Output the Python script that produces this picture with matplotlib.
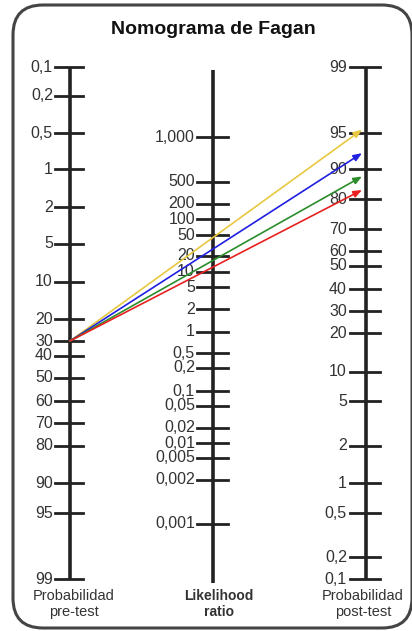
import numpy as np
import matplotlib.pyplot as plt
from matplotlib.patches import FancyBboxPatch

plt.rcParams['font.family'] = ['Liberation Sans', 'DejaVu Sans']

# pre-test probability scale (%) and where each tick sits on the drawn scale
pre_labels = ["0,1", "0,2", "0,5", "1", "2", "5", "10", "20", "30", "40",
              "50", "60", "70", "80", "90", "95", "99"]
pre_values = [0.1, 0.2, 0.5, 1, 2, 5, 10, 20, 30, 40, 50, 60, 70, 80, 90, 95, 99]
pre_pos = [67, 96, 133, 169, 207, 244, 282, 319, 341, 356, 378, 401, 423,
           446, 483, 513, 579]

# likelihood ratio scale
lr_labels = ["1,000", "500", "200", "100", "50", "20", "10", "5", "2", "1",
             "0,5", "0,2", "0,1", "0,05", "0,02", "0,01", "0,005", "0,002", "0,001"]
lr_pos = [137, 182, 204, 219, 235, 256, 272, 287, 309, 332, 353, 368, 391,
          406, 428, 443, 458, 480, 524]

# post-test probability scale (%)
post_labels = ["99", "95", "90", "80", "70", "60", "50", "40", "30", "20",
               "10", "5", "2", "1", "0,5", "0,2", "0,1"]
post_values = [99, 95, 90, 80, 70, 60, 50, 40, 30, 20, 10, 5, 2, 1, 0.5, 0.2, 0.1]
post_pos = [67, 133, 169, 199, 229, 251, 266, 289, 311, 333, 372, 401, 446,
            483, 513, 557, 579]

# arrows: pre-test probability -> post-test probability
pretest = 30
posttest = [95.2, 92.2, 87.5, 83.0]
arrow_colors = ["#e8c840", "#1f1fe0", "#2a8c2a", "#e82020"]

fig = plt.figure(figsize=(4.12, 6.31), dpi=100)
ax = fig.add_axes([0, 0, 1, 1])
ax.set_xlim(0, 412)
ax.set_ylim(631, 0)
ax.axis("off")

frame = FancyBboxPatch((13, 5), 399, 623, boxstyle="round,pad=0,rounding_size=30",
                       fc="white", ec="#444444", lw=2.2)
ax.add_patch(frame)

ax.text(213, 30, "Nomograma de Fagan", ha="center", va="center",
        fontsize=14, fontweight="bold", color="#111111")

axis_col = "#222222"
text_col = "#333333"


def draw_scale(x, y0, y1, labels, pos, t0, t1, lx):
    ax.plot([x, x], [y0, y1], color=axis_col, lw=2.6, solid_capstyle="butt")
    for lab, p in zip(labels, pos):
        ax.plot([x - t0, x + t1], [p, p], color=axis_col, lw=2.0)
        ax.text(x - lx, p, lab, ha="right", va="center", fontsize=11.5, color=text_col)


draw_scale(70, 67, 579, pre_labels, pre_pos, 15, 13, 17)
draw_scale(213, 70, 583, lr_labels, lr_pos, 16, 15, 18)
draw_scale(366, 67, 579, post_labels, post_pos, 16, 14, 19)

ax.text(74, 604, "Probabilidad\npre-test", ha="center", va="center",
        fontsize=10.5, color=text_col, linespacing=1.15)
ax.text(219, 604, "Likelihood\nratio", ha="center", va="center",
        fontsize=10, fontweight="bold", color=text_col, linespacing=1.25)
ax.text(363, 604, "Probabilidad\npost-test", ha="center", va="center",
        fontsize=10.5, color=text_col, linespacing=1.15)

# map probabilities to the drawn scale positions
pre_order = np.argsort(pre_values)
y_start = np.interp(pretest, np.array(pre_values)[pre_order], np.array(pre_pos)[pre_order])
post_order = np.argsort(post_values)
for val, col in zip(posttest, arrow_colors):
    y_end = np.interp(val, np.array(post_values)[post_order], np.array(post_pos)[post_order])
    ax.annotate("", xy=(362, y_end), xytext=(70, y_start),
                arrowprops=dict(arrowstyle="-|>,head_length=0.5,head_width=0.2",
                                color=col, lw=1.2, shrinkA=0, shrinkB=0))

fig.savefig("out.png", dpi=100)
